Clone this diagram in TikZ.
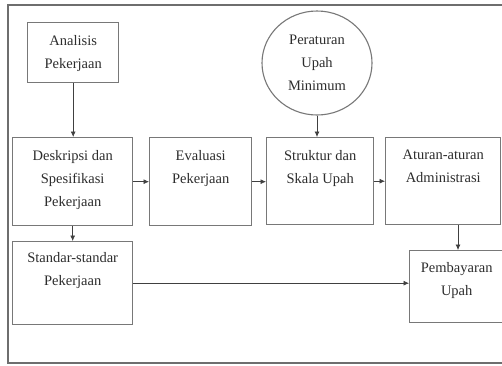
\documentclass[tikz,border=0pt]{standalone}
\usepackage{fontspec}
\setmainfont{Liberation Serif}
\usetikzlibrary{arrows.meta,shapes.geometric}
\definecolor{boxgray}{RGB}{120,120,120}
\definecolor{framegray}{RGB}{110,110,110}
\definecolor{txtgray}{RGB}{45,45,45}
\tikzset{
  box/.style={draw=boxgray, line width=1.4pt, rectangle, inner sep=0pt, anchor=north west},
  circ/.style={draw=boxgray, line width=1.1pt, ellipse, inner sep=0pt, minimum width=110pt, minimum height=104pt},
  txt/.style={font=\fontsize{14.5}{23}\selectfont, align=center, inner sep=0pt, text=txtgray},
  arr/.style={draw=black!75, line width=0.7pt, -{Latex[length=5.5pt,width=5pt]}},
}
\begin{document}
\begin{tikzpicture}[x=1pt,y=-1pt]
\useasboundingbox (0,0) rectangle (502,365);
\clip (0,0) rectangle (502,365);
\fill[white] (0,0) rectangle (502,365);
\draw[framegray, line width=1.8pt] (8,5) rectangle (530,363);
% boxes
\node[box, minimum width=91pt, minimum height=60pt] (ana) at (27,22) {};
\node[box, minimum width=120pt, minimum height=88pt] (desk) at (12,137) {};
\node[box, minimum width=102pt, minimum height=88pt] (eval) at (149,137) {};
\node[box, minimum width=107pt, minimum height=87pt] (strk) at (266,137) {};
\node[box, minimum width=115pt, minimum height=87pt] (atur) at (385,137) {};
\node[box, minimum width=120pt, minimum height=83pt] (stan) at (12,241) {};
\node[box, minimum width=110pt, minimum height=72pt] (pemb) at (409,250) {};
\node[circ] (per) at (317,63) {};
% texts
\node[txt, anchor=north] (anaT) at ([yshift=-13pt]ana.north) {Analisis\\Pekerjaan};
\node[txt, anchor=north] (deskT) at ([yshift=-13pt]desk.north) {Deskripsi dan\\Spesifikasi\\Pekerjaan};
\node[txt, anchor=north] (evalT) at ([yshift=-13pt]eval.north) {Evaluasi\\Pekerjaan};
\node[txt, anchor=north] (strkT) at ([yshift=-13pt]strk.north) {Struktur dan\\Skala Upah};
\node[txt, anchor=north] (aturT) at ([yshift=-13pt]atur.north) {Aturan-aturan\\Administrasi};
\node[txt, anchor=north] (stanT) at ([yshift=-11pt]stan.north) {Standar-standar\\Pekerjaan};
\node[txt, anchor=north] (pembT) at ([xshift=-8pt,yshift=-12pt]pemb.north) {Pembayaran\\Upah};
\node[txt] (perT) at (per.center) {Peraturan\\Upah\\Minimum};
% connectors
\coordinate (ap) at (458,0);
\draw[arr] (ana.south) -- (ana.south |- desk.north);
\draw[arr] (desk.east) -- (desk.east -| eval.west);
\draw[arr] (eval.east) -- (eval.east -| strk.west);
\draw[arr] (strk.east) -- (strk.east -| atur.west);
\draw[arr] (per.south) -- (per.south |- strk.north);
\draw[arr] (atur.south -| ap) -- (pemb.north -| ap);
\draw[arr] (desk.south) -- (desk.south |- stan.north);
\draw[arr] (stan.east) -- (stan.east -| pemb.west);
\end{tikzpicture}
\end{document}
